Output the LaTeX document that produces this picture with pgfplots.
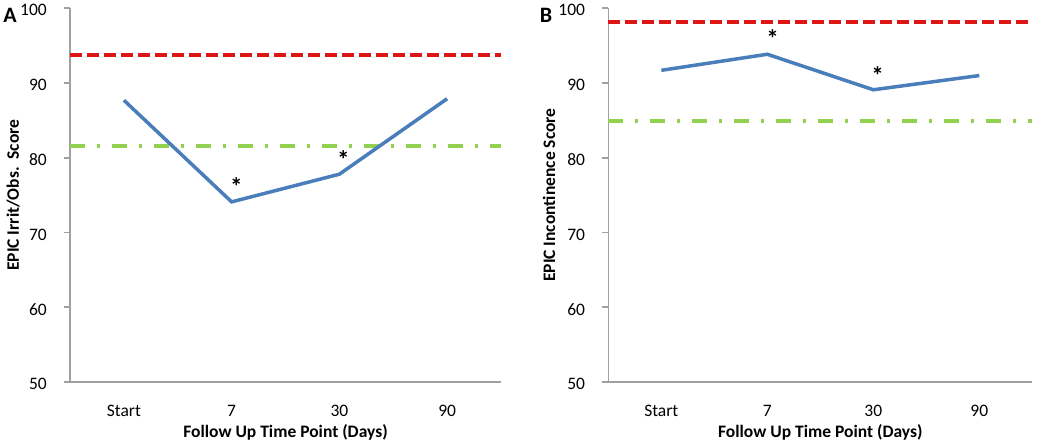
\documentclass[border=0pt]{standalone}
\usepackage{pgfplots}
\pgfplotsset{compat=1.18}
\usepackage{fontspec}
\setmainfont{Carlito}
\definecolor{lineblue}{HTML}{4A7EBB}
\definecolor{refred}{HTML}{DD1515}
\definecolor{refgreen}{HTML}{92D050}
\definecolor{axgrey}{HTML}{A0A0A0}
\tikzset{star/.style={font=\fontsize{25}{28}\selectfont\bfseries, yshift=-6pt}}
\pgfplotsset{
  epicstyle/.style={
    scale only axis=true,
    height=373.7pt,
    xmin=-0.5, xmax=3.5,
    ymin=50, ymax=100,
    ytick={50,60,70,80,90,100},
    xtick={0,1,2,3},
    xticklabels={Start,7,30,90},
    axis lines*=left,
    axis line style={axgrey, line width=1.6pt, -},
    x axis line style={-},
    y axis line style={-},
    xtick style={draw=none},
    ytick style={axgrey, line width=1.6pt},
    tick align=outside,
    major tick length=6pt,
    /pgf/number format/assume math mode=true,
    every tick label/.append style={font=\fontsize{17.5}{20}\selectfont},
    xticklabel style={anchor=base, yshift=-29pt},
    yticklabel style={anchor=east, inner sep=0pt, xshift=-17pt, yshift=-2pt},
    label style={font=\fontsize{17.5}{20}\selectfont\bfseries},
    xlabel style={at={(axis description cs:0.5,-0.136)}, anchor=center},
    clip=false,
  }
}
\begin{document}
\begin{tikzpicture}
\path[use as bounding box] (0pt,0pt) rectangle (1041pt,446pt);
% Panel A
\begin{axis}[epicstyle,
  at={(70pt,64pt)}, anchor=south west,
  width=431pt,
  xlabel={Follow Up Time Point (Days)},
  ylabel={EPIC Irrit/Obs.\ \ Score},
  ylabel style={at={(axis description cs:-0.132,0.5)}, anchor=center},
]
\addplot[refred, line width=4pt, dash pattern=on 12pt off 5pt] coordinates {(-0.5,93.8) (3.5,93.8)};
\addplot[refgreen, line width=4pt, dash pattern=on 15pt off 12pt on 3pt off 12pt] coordinates {(-0.5,81.6) (3.5,81.6)};
\addplot[lineblue, line width=3.5pt] coordinates {(0,87.7) (1,74.1) (2,77.8) (3,87.9)};
\node[star] at (axis cs:1.044,76.9) {*};
\node[star] at (axis cs:2.037,80.5) {*};
\end{axis}
% Panel B
\begin{axis}[epicstyle,
  at={(608.3pt,64pt)}, anchor=south west,
  width=424pt,
  xlabel={Follow Up Time Point (Days)},
  ylabel={EPIC Incontinence Score},
  ylabel style={at={(axis description cs:-0.14,0.5)}, anchor=center},
]
\addplot[refred, line width=4pt, dash pattern=on 12pt off 5pt] coordinates {(-0.5,98.1) (3.5,98.1)};
\addplot[refgreen, line width=4pt, dash pattern=on 15pt off 12pt on 3pt off 12pt] coordinates {(-0.5,84.9) (3.5,84.9)};
\addplot[lineblue, line width=3.5pt] coordinates {(0,91.7) (1,93.85) (2,89.1) (3,91.0)};
\node[star] at (axis cs:1.05,96.7) {*};
\node[star] at (axis cs:2.04,91.8) {*};
\end{axis}
\node[font=\fontsize{22}{24}\selectfont\bfseries] at (10pt,430.5pt) {A};
\node[font=\fontsize{22}{24}\selectfont\bfseries] at (546pt,431pt) {B};
\end{tikzpicture}
\end{document}
